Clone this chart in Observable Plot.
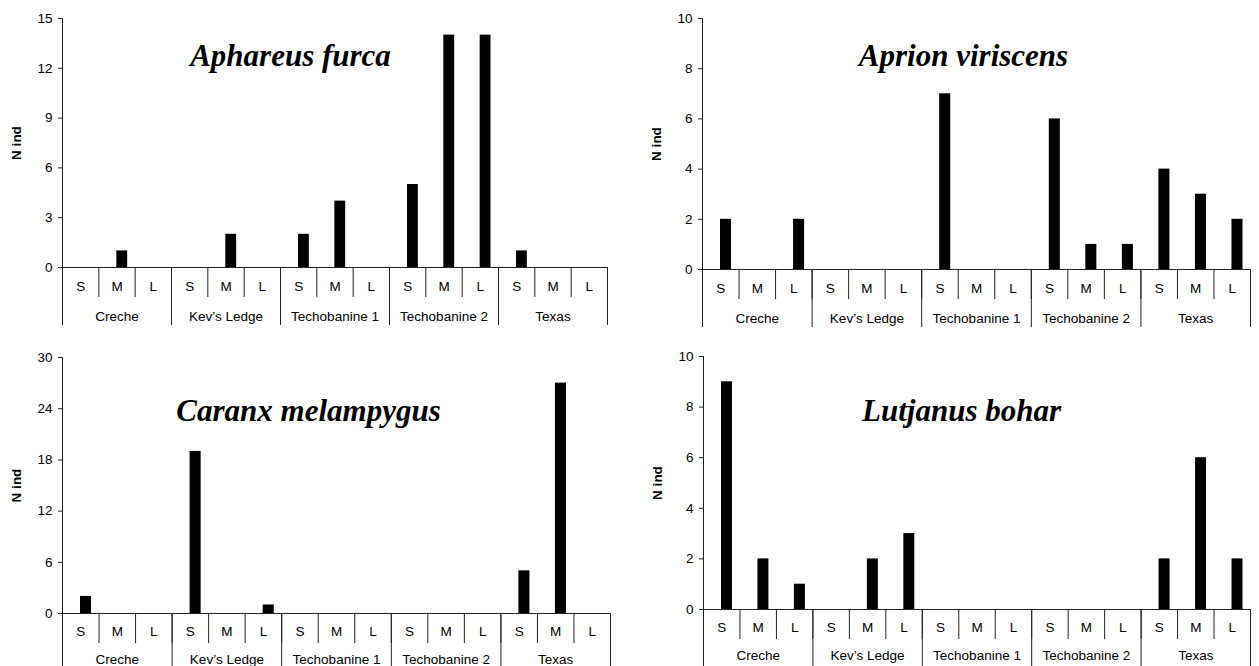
<!DOCTYPE html>
<html>
<head>
<meta charset="utf-8">
<script src="https://cdn.jsdelivr.net/npm/d3@7"></script>
<script src="https://cdn.jsdelivr.net/npm/@observablehq/plot@0.6"></script>
<style>
  html, body { margin: 0; padding: 0; background: white; }
  #wrap { position: relative; width: 1259px; height: 666px; overflow: hidden; background: white; }
  .panel { position: absolute; }
</style>
</head>
<body>
<div id="wrap"></div>
<script>
// ---- data ----
const sites = ["Creche", "Kev\u2019s Ledge", "Techobanine 1", "Techobanine 2", "Texas"];
const sizeClasses = ["S", "M", "L"];

const aphareusFurca    = [0, 1, 0,   0, 2, 0,   2, 4, 0,   5, 14, 14,   1, 0, 0];
const aprionViriscens  = [2, 0, 2,   0, 0, 0,   7, 0, 0,   6, 1, 1,     4, 3, 2];
const caranxMelampygus = [2, 0, 0,   19, 0, 1,  0, 0, 0,   0, 0, 0,     5, 27, 0];
const lutjanusBohar    = [9, 2, 1,   0, 2, 3,   0, 0, 0,   0, 0, 0,     2, 6, 2];

const yTicksAphareus = [0, 3, 6, 9, 12, 15];
const yTicksAprion   = [0, 2, 4, 6, 8, 10];
const yTicksCaranx   = [0, 6, 12, 18, 24, 30];
const yTicksLutjanus = [0, 2, 4, 6, 8, 10];

const titles = ["Aphareus furca", "Aprion viriscens", "Caranx melampygus", "Lutjanus bohar"];
const yLabel = "N ind";

// ---- layout ----
const panels = [
  {title: titles[0], values: aphareusFurca,    ticks: yTicksAphareus, left: 0,   top: 0,   width: 630, mL: 62, mR: 23, mT: 18, mB: 66, tdx: 228, tdy: 47, sp: 14, lp: 44},
  {title: titles[1], values: aprionViriscens,  ticks: yTicksAprion,   left: 630, top: 0,   width: 629, mL: 72, mR: 9,  mT: 18, mB: 64, tdx: 261, tdy: 47, sp: 14, lp: 44},
  {title: titles[2], values: caranxMelampygus, ticks: yTicksCaranx,   left: 0,   top: 333, width: 630, mL: 62, mR: 20, mT: 24, mB: 53, tdx: 246, tdy: 63, sp: 13, lp: 41},
  {title: titles[3], values: lutjanusBohar,    ticks: yTicksLutjanus, left: 630, top: 333, width: 629, mL: 73, mR: 9,  mT: 23, mB: 57, tdx: 258, tdy: 64, sp: 13, lp: 41}
];

const n = sites.length * sizeClasses.length;
const lineColor = "#222";
const labelFont = 13.5;

function makePanel(p) {
  const rows = p.values.map((v, i) => ({
    i,
    site: sites[Math.floor(i / sizeClasses.length)],
    size: sizeClasses[i % sizeClasses.length],
    value: v
  }));
  const yMax = p.ticks[p.ticks.length - 1];
  const sizeCenters = d3.range(n).map(i => i + 0.5);
  const siteCenters = sites.map((s, j) => j * sizeClasses.length + sizeClasses.length / 2);
  const sizeBounds = d3.range(n + 1);
  const siteBounds = d3.range(0, n + 1, sizeClasses.length);

  const chart = Plot.plot({
    width: p.width,
    height: 333,
    marginLeft: p.mL,
    marginRight: p.mR,
    marginTop: p.mT,
    marginBottom: p.mB,
    style: {fontFamily: "'Liberation Sans', Arial, sans-serif", fontSize: labelFont + "px", color: "black", background: "white", overflow: "visible"},
    x: {type: "linear", domain: [0, n]},
    y: {domain: [0, yMax]},
    marks: [
      Plot.rectY(rows.filter(d => d.value > 0), {
        x1: d => d.i, x2: d => d.i + 1, y: "value",
        fill: "black", insetLeft: 18, insetRight: 7.5
      }),
      Plot.ruleY([0], {stroke: lineColor}),
      Plot.ruleX([0], {y1: 0, y2: yMax, stroke: lineColor}),
      Plot.axisY(p.ticks, {tickSize: 4, tickPadding: 6, label: null, stroke: lineColor, fontSize: labelFont}),
      Plot.axisX(sizeBounds, {tickSize: 30, tickFormat: () => "", stroke: lineColor}),
      Plot.axisX(siteBounds, {tickSize: 58, tickFormat: () => "", stroke: lineColor}),
      Plot.axisX(sizeCenters, {tickSize: 0, tickPadding: p.sp, tickFormat: v => sizeClasses[Math.floor(v) % sizeClasses.length], fontSize: labelFont}),
      Plot.axisX(siteCenters, {tickSize: 0, tickPadding: p.lp, tickFormat: v => sites[Math.floor(v / sizeClasses.length)], fontSize: labelFont}),
      Plot.text([yLabel], {
        text: d => d, frameAnchor: "left", dx: -46, rotate: -90,
        fontWeight: "bold", fontSize: 13.5, textAnchor: "middle", fill: "black"
      }),
      Plot.text([p.title], {
        text: d => d, frameAnchor: "top-left", dx: p.tdx, dy: p.tdy,
        textAnchor: "middle", lineAnchor: "bottom",
        fontFamily: "'Liberation Serif', 'Times New Roman', serif",
        fontWeight: "bold", fontStyle: "italic", fontSize: 31, fill: "black"
      })
    ]
  });
  const div = document.createElement("div");
  div.className = "panel";
  div.style.left = p.left + "px";
  div.style.top = p.top + "px";
  div.appendChild(chart);
  return div;
}

const wrap = document.getElementById("wrap");
panels.forEach(p => wrap.appendChild(makePanel(p)));
</script>
</body>
</html>
